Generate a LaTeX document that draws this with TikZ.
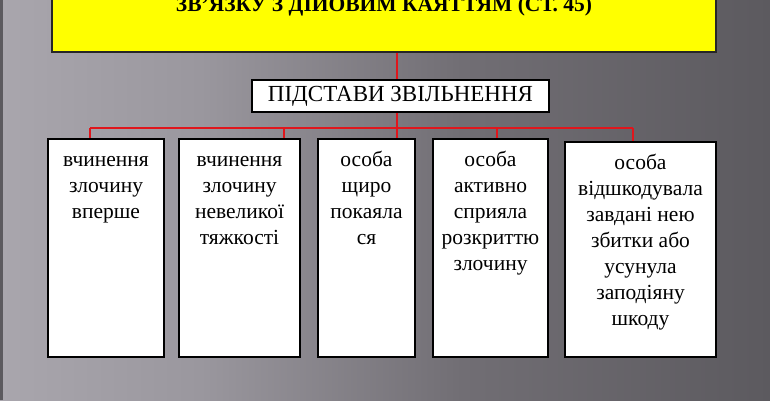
\documentclass[tikz,border=0pt]{standalone}
\usepackage{fontspec}
\setmainfont{Liberation Serif}
\usetikzlibrary{positioning,calc}

\definecolor{fonA}{HTML}{A9A6AD}
\definecolor{fonB}{HTML}{9A979E}
\definecolor{fonC}{HTML}{716E74}
\definecolor{fonD}{HTML}{5C5A5F}
\definecolor{zhovtyi}{HTML}{FFFF00}
\definecolor{chervonyi}{HTML}{E0161C}
\pgfdeclarehorizontalshading{fon}{100bp}{color(0bp)=(fonA); color(25bp)=(fonA);
  color(38bp)=(fonB); color(55bp)=(fonC); color(75bp)=(fonD); color(100bp)=(fonD)}

\begin{document}
\begin{tikzpicture}[
    x=1pt, y=-1pt,
    zag/.style={rectangle, draw=black!85, fill=zhovtyi, line width=1.2pt, minimum width=664, minimum height=62},
    pid/.style={rectangle, draw=black, fill=white, line width=2pt, minimum width=297, minimum height=32, font=\fontsize{23}{27}\selectfont},
    pidstava/.style={rectangle, draw=black, fill=white, line width=2pt},
    napys/.style={anchor=north, inner sep=0pt, align=center, font=\fontsize{21.5}{26}\selectfont},
    zviazok/.style={draw=chervonyi, line width=1.6pt}
]
    \useasboundingbox (0,0) rectangle (770,400);
    \shade[shading=fon] (0,0) rectangle (770,400);
    \fill[fonD] (0,0) rectangle (3,400);

    % header
    \node[zag] (zag) at (384,21) {};
    \node[anchor=base, font=\fontsize{21.5}{25}\selectfont\bfseries] (zagtext) at (384,11) {ЗВ'ЯЗКУ З ДІЙОВИМ КАЯТТЯМ (СТ. 45)};

    \node[pid] (pid) at (400.5,96) {ПІДСТАВИ ЗВІЛЬНЕННЯ};

    % grounds
    \node[pidstava, minimum width=116, minimum height=218] (p1) at (106,248) {};
    \node[pidstava, minimum width=121, minimum height=218] (p2) at (239.5,248) {};
    \node[pidstava, minimum width=97, minimum height=218] (p3) at (366.5,248) {};
    \node[pidstava, minimum width=115, minimum height=218] (p4) at (490.5,248) {};
    \node[pidstava, minimum width=151, minimum height=215] (p5) at (640.5,249.5) {};

    \node[napys] (t1) at ([yshift=-10]p1.north) {\strut вчинення\\злочину\\вперше};
    \node[napys] (t2) at ([yshift=-10]p2.north) {\strut вчинення\\злочину\\невеликої\\тяжкості};
    \node[napys] (t3) at ([yshift=-10]p3.north) {\strut особа\\щиро\\покаяла\\ся};
    \node[napys] (t4) at ([yshift=-10]p4.north) {\strut особа\\активно\\сприяла\\розкриттю\\злочину};
    \node[napys] (t5) at ([yshift=-10]p5.north) {\strut особа\\відшкодувала\\завдані нею\\збитки або\\усунула\\заподіяну\\шкоду};

    % connectors
    \coordinate (shyna) at (397,128);
    \draw[zviazok] (zag.south -| shyna) -- (pid.north -| shyna);
    \draw[zviazok] (pid.south -| shyna) -- (shyna);
    \draw[zviazok] (90,128) -- (633,128);
    \foreach \x/\p in {90/p1, 284/p2, 397/p3, 497/p4, 633/p5}
        \draw[zviazok] (\x,128) -- (\x,128 |- \p.north);
\end{tikzpicture}
\end{document}
